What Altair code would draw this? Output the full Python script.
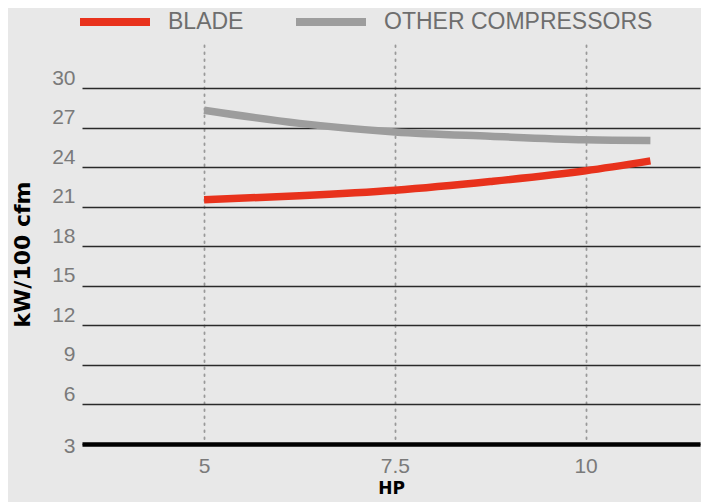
import altair as alt
import pandas as pd

hp = [5, 6.25, 7.5, 8.75, 10, 10.85]
blade = [21.55, 21.85, 22.27, 22.93, 23.75, 24.5]
other = [28.35, 27.35, 26.7, 26.37, 26.1, 26.05]
series = ["BLADE", "OTHER COMPRESSORS"]
colors = ["#e8321c", "#9d9d9d"]
y_ticks = [3, 6, 9, 12, 15, 18, 21, 24, 27, 30]
x_ticks = [5, 7.5, 10]

rows = []
for x, b, o in zip(hp, blade, other):
    rows.append({"hp": x, "value": b, "series": series[0]})
    rows.append({"hp": x, "value": o, "series": series[1]})
df = pd.DataFrame(rows)

chart = alt.Chart(df).mark_line(strokeWidth=7.5, strokeCap="butt", interpolate="monotone").encode(
    x=alt.X("hp:Q", scale=alt.Scale(domain=[3.4, 11.5], nice=False, zero=False),
            axis=alt.Axis(values=x_ticks, title="HP", grid=True, gridColor="#999999",
                          gridWidth=1.8, gridDash=[1.6, 5.4], gridCap="round",
                          domain=True, domainColor="#000000", domainWidth=4.5,
                          ticks=False, labelFontSize=21, labelColor="#7a7a7a",
                          labelFont="Liberation Sans", labelPadding=11,
                          labelExpr="datum.value == 7.5 ? '7.5' : format(datum.value, 'd')",
                          titleFont="DejaVu Sans", titleFontWeight="bold", titleFontSize=17,
                          titleColor="#000000", titleBaseline="top", titleY=36)),
    y=alt.Y("value:Q", scale=alt.Scale(domain=[3, 33.3], nice=False, zero=False),
            axis=alt.Axis(values=y_ticks, title="kW/100 cfm", grid=True, gridColor="#2a2a2a",
                          gridWidth=1.5, domain=False, ticks=False, labelFontSize=21,
                          labelColor="#7a7a7a", labelFont="Liberation Sans", labelPadding=7,
                          labelBaseline="alphabetic",
                          labelOffset=alt.ExprRef("datum.value == 3 ? 8 : -4"),
                          titleFont="DejaVu Sans", titleFontWeight="bold", titleFontSize=22,
                          titleColor="#000000", titleAngle=270, titleX=-60, titleY=209,
                          titleAlign="center", titleBaseline="middle")),
    color=alt.Color("series:N", scale=alt.Scale(domain=series, range=colors),
                    legend=alt.Legend(title=None, orient="none", legendX=-6, legendY=-62,
                                      direction="horizontal", symbolType="stroke",
                                      symbolSize=4900, symbolStrokeWidth=8,
                                      labelFontSize=23, labelColor="#6e6e6e",
                                      labelFont="Liberation Sans", labelOffset=14,
                                      labelLimit=0, columnPadding=36, padding=0)),
).properties(
    width=618, height=399,
    autosize=alt.AutoSizeParams(type="none"),
    padding={"left": 74, "top": 37, "right": 1, "bottom": 58},
    background="#e8e8e8",
).configure_view(stroke=None)

chart.save("out.html", embed_options={"renderer": "svg", "actions": False})
